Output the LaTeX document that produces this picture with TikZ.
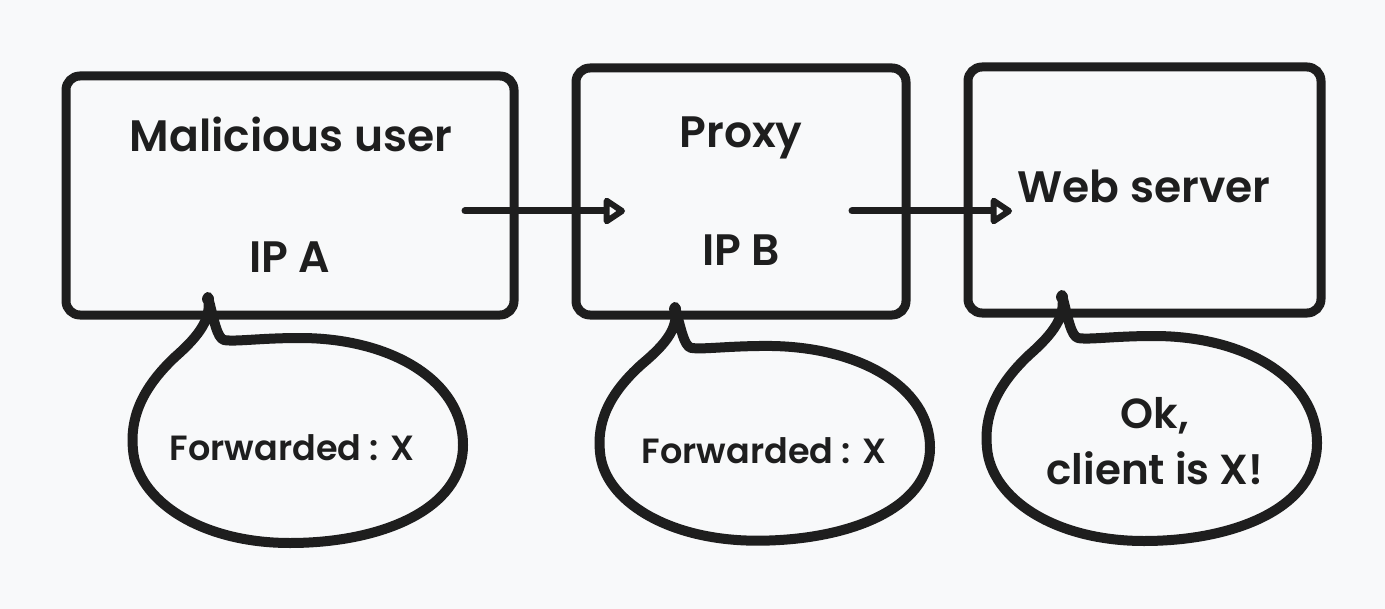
\documentclass[tikz,border=0pt]{standalone}
\usepackage{fontspec}
\setmainfont{Poppins}[BoldFont={Poppins SemiBold}]
\usetikzlibrary{arrows.meta}
\definecolor{bg}{RGB}{248,249,250}
\definecolor{ink}{RGB}{30,30,30}
\tikzset{
  boxshape/.style={draw=ink, line width=4.5pt, rounded corners=7pt, inner sep=0pt},
  lbl/.style={text=ink, font=\fontsize{22}{26}\selectfont\bfseries, inner sep=0pt, anchor=base},
  blbl/.style={text=ink, font=\fontsize{17.5}{21}\selectfont\bfseries, inner sep=0pt, anchor=base},
  okl/.style={text=ink, font=\fontsize{21}{28}\selectfont\bfseries, inner sep=0pt, align=center},
  flow/.style={draw=ink, line width=3.5pt, line cap=round, -{Triangle[open, length=12pt, width=15pt, round]}},
  bub/.style={draw=ink, line width=5pt, line join=round, line cap=round},
}
\newcommand{\bubblepath}{(0,0) .. controls (4,21) and (-8,38) .. (-33,60)
  .. controls (-68,93) and (-78,123) .. (-75,153)
  .. controls (-71,203) and (-8,246) .. (82,246)
  .. controls (172,246) and (255,213) .. (255,148)
  .. controls (255,83) and (182,41) .. (92,41)
  .. controls (52,41) and (27,45) .. (16,43)
  .. controls (9,41) and (6,23) .. (0,0) -- cycle}
\begin{document}
\begin{tikzpicture}[x=0.5pt,y=-0.5pt]
\fill[bg] (0,0) rectangle (1385,609);
\useasboundingbox (0,0) rectangle (1385,609);
% boxes
\node[boxshape, minimum width=224pt, minimum height=119.5pt] (user) at (290,195.5) {};
\node[boxshape, minimum width=165pt, minimum height=123.5pt] (proxy) at (741,191.5) {};
\node[boxshape, minimum width=176.5pt, minimum height=123pt] (web) at (1144.5,190) {};
% box texts
\node[lbl] (usertxt) at (291,152) {Malicious user};
\node[lbl] (ipa) at (290,272) {IP A};
\node[lbl] (proxytxt) at (741,148) {Proxy};
\node[lbl] (ipb) at (741,265) {IP B};
\node[lbl] (webtxt) at (1144,203) {Web server};
% arrows
\coordinate (a1s) at (465,211);
\coordinate (a1e) at (625,211);
\coordinate (a2s) at (852,211);
\coordinate (a2e) at (1012,211);
\draw[flow] (a1s) -- (a1e);
\draw[flow] (a2s) -- (a2e);
% bubbles
\draw[bub, shift={(208,297)}] \bubblepath;
\fill[ink, shift={(208,297)}] (0,2) circle (6);
\draw[bub, shift={(675,307)}, yscale=0.95] \bubblepath;
\fill[ink, shift={(675,307)}] (0,2) circle (6);
\draw[bub, shift={(1062,295)}] \bubblepath;
\fill[ink, shift={(1062,295)}] (0,2) circle (6);
% bubble texts
\node[blbl] (fwd1) at (292,460) {Forwarded : X};
\node[blbl] (fwd2) at (764,463) {Forwarded : X};
\node[okl] (ok) at (1155,441) {Ok,\\client is X!};
\end{tikzpicture}
\end{document}
